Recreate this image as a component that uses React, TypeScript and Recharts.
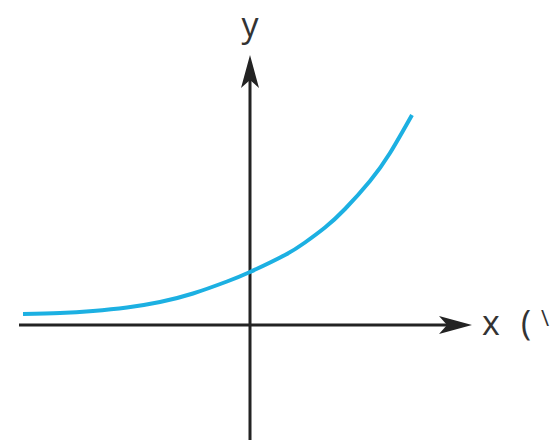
import React from 'react';
import { LineChart, Line, XAxis, YAxis, ReferenceLine } from 'recharts';

// Curve samples (origin where the axes cross)
const curveX = [-4.54, -3.8, -3.14, -2.46, -1.8, -1.14, -0.46, 0, 0.7, 1.1, 1.5, 1.9, 2.4, 2.8, 3.24];
const curveY = [0.22, 0.24, 0.28, 0.35, 0.46, 0.63, 0.87, 1.06, 1.4, 1.65, 1.95, 2.32, 2.88, 3.44, 4.2];

const xAxisEnds = [-4.62, 4.44];
const yAxisEnds = [-2.3, 5.4];

const xLabel = 'x';
const xLabelParen = '(';
const xLabelCut = '\\';
const yLabel = 'y';

const AXIS_COLOR = '#232323';
const CURVE_COLOR = '#1cb0e2';
const FONT = '"Open Sans", "Liberation Sans", sans-serif';

const chartData = curveX.map((x, i) => ({ x, y: curveY[i] }));

// Horizontal axis with a swept arrowhead at the right end
const XArrow = (props: any) => {
    const { x1, y1, x2 } = props;
    if (x1 == null) return null;
    return (
        <g>
            <line x1={x1} y1={y1} x2={x2 - 20} y2={y1} stroke={AXIS_COLOR} strokeWidth={3} />
            <polygon
                points={`${x2},${y1} ${x2 - 33},${y1 - 9} ${x2 - 25},${y1} ${x2 - 33},${y1 + 9}`}
                fill={AXIS_COLOR}
            />
            <text x={x2 + 10} y={y1 + 10} fontSize={34} fontFamily={FONT} fill="#333">{xLabel}</text>
            <text x={x2 + 49} y={y1 + 10} fontSize={34} fontFamily={FONT} fill="#333">{xLabelParen}</text>
            <text x={x2 + 69} y={y1 + 1} fontSize={22} fontFamily={FONT} fill="#333">{xLabelCut}</text>
        </g>
    );
};

// Vertical axis with arrowhead at the top
const YArrow = (props: any) => {
    const { x1, y1, y2 } = props;
    if (x1 == null) return null;
    const top = Math.min(y1, y2);
    const bottom = Math.max(y1, y2);
    return (
        <g>
            <line x1={x1} y1={bottom} x2={x1} y2={top + 20} stroke={AXIS_COLOR} strokeWidth={3} />
            <polygon
                points={`${x1},${top} ${x1 - 9},${top + 33} ${x1},${top + 25} ${x1 + 9},${top + 33}`}
                fill={AXIS_COLOR}
            />
            <text x={x1} y={top - 18} fontSize={34} fontFamily={FONT} fill="#333" textAnchor="middle">{yLabel}</text>
        </g>
    );
};

export default function App() {
    return (
        <div style={{ position: 'absolute', left: 0, top: 0, width: 559, height: 441, background: '#fff' }}>
            <LineChart width={559} height={441} data={chartData} margin={{ top: 0, right: 0, bottom: 0, left: 0 }}>
                <XAxis type="number" dataKey="x" domain={[-5, 6.18]} hide />
                <YAxis type="number" domain={[-2.32, 6.5]} hide />
                <ReferenceLine
                    segment={[{ x: xAxisEnds[0], y: 0 }, { x: xAxisEnds[1], y: 0 }]}
                    shape={XArrow}
                    ifOverflow="visible"
                />
                <ReferenceLine
                    segment={[{ x: 0, y: yAxisEnds[0] }, { x: 0, y: yAxisEnds[1] }]}
                    shape={YArrow}
                    ifOverflow="visible"
                />
                <Line
                    type="natural"
                    dataKey="y"
                    stroke={CURVE_COLOR}
                    strokeWidth={4}
                    strokeLinecap="butt"
                    dot={false}
                    activeDot={false}
                    isAnimationActive={false}
                />
            </LineChart>
        </div>
    );
}
